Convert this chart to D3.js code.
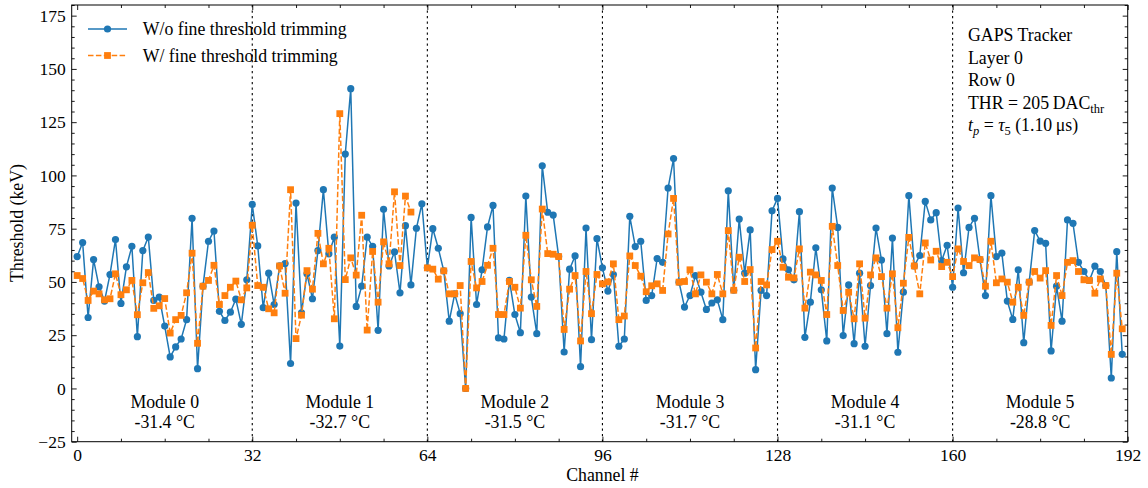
<!DOCTYPE html>
<html><head><meta charset="utf-8">
<script src="https://cdn.jsdelivr.net/npm/d3@7"></script>
<style>
body{margin:0;background:#fff;}
text{font-family:"Liberation Serif","Times New Roman",serif;fill:#000;}
</style></head>
<body><svg id="c" width="1148" height="488"></svg>
<script>
const woTrim = [61.9,68.5,33.3,60.5,47.7,41.0,53.5,69.9,39.9,57.1,66.7,24.3,64.7,71.1,41.3,42.9,29.3,14.8,19.5,23.2,32.3,79.9,9.3,48.0,
69.1,73.9,36.2,31.9,35.8,41.9,30.1,51.0,86.4,66.9,37.9,54.1,39.4,57.5,58.6,11.7,87.0,35.5,53.8,42.1,64.7,93.3,63.2,71.0,
19.9,110.0,140.7,38.5,48.0,71.0,66.7,27.3,84.1,57.5,64.1,44.9,76.4,48.6,75.2,86.7,56.6,75.0,65.8,55.2,31.6,44.4,35.1,0.0,
80.3,39.4,55.7,75.8,85.9,23.7,23.2,50.7,34.7,26.2,90.3,42.9,25.7,104.5,82.7,81.4,61.9,17.1,56.0,62.2,10.2,75.3,22.9,70.3,
56.6,45.7,53.5,19.8,23.2,80.8,66.6,69.1,41.3,43.6,61.0,59.2,94.1,107.9,49.9,38.2,43.6,53.0,45.2,37.1,40.1,41.6,32.3,92.8,
46.1,79.5,54.1,74.4,8.8,46.0,43.6,83.4,89.2,60.8,55.7,51.0,83.0,24.0,40.5,66.0,46.3,22.3,94.1,75.6,24.8,48.6,21.0,54.1,
19.8,48.3,75.3,60.3,25.7,70.6,17.0,45.2,90.5,57.5,62.4,87.8,79.1,82.5,60.0,67.2,47.5,84.7,54.3,75.6,79.9,60.5,43.6,90.5,
61.9,63.5,41.0,32.4,55.7,21.5,49.9,74.1,69.2,68.1,17.6,48.0,31.6,79.1,77.5,59.2,54.9,50.7,57.4,54.9,48.3,4.9,64.2,16.0];
const wTrim = [53.0,51.6,41.3,45.7,44.4,41.6,42.1,53.8,44.0,46.3,50.7,34.6,49.6,54.4,37.6,38.8,42.2,26.0,32.3,34.3,44.9,63.5,21.2,48.0,
50.7,57.8,39.4,43.6,47.5,50.4,41.6,47.2,76.6,48.3,47.5,37.4,35.5,57.5,44.7,93.3,23.4,34.4,55.3,46.6,72.8,58.5,65.8,32.7,
129.0,51.1,61.3,53.2,81.3,27.4,64.3,40.5,68.8,58.5,92.3,57.7,90.3,82.8,null,null,56.6,56.0,51.3,55.2,44.4,44.4,48.3,0.0,
59.6,47.2,50.2,57.8,65.8,34.7,34.7,50.2,47.5,37.7,71.9,51.0,38.5,84.2,63.3,63.0,61.9,27.7,46.6,53.0,22.3,54.9,35.1,53.5,
49.1,50.0,58.5,32.3,34.0,62.2,57.7,52.7,45.4,48.2,49.1,46.0,72.5,89.2,49.9,50.2,55.7,44.4,53.3,49.9,44.4,53.5,44.4,74.1,
46.1,61.6,50.2,55.8,19.0,50.2,48.6,65.2,69.1,56.9,52.2,51.9,65.5,37.7,54.6,53.3,50.7,34.7,76.1,57.7,36.6,45.2,32.7,58.5,
33.0,53.3,61.3,52.5,37.7,53.8,28.5,49.4,70.9,57.5,44.4,68.3,60.3,64.4,57.2,59.2,52.5,65.5,59.6,57.7,61.3,60.5,48.0,69.1,
49.6,51.4,49.9,40.5,47.5,34.3,49.9,54.9,51.8,55.3,29.6,53.0,43.6,59.2,60.0,54.9,51.0,50.7,44.7,51.4,48.3,16.0,54.1,28.0];
const moduleNames = ["Module 0","Module 1","Module 2","Module 3","Module 4","Module 5"];
const moduleTemps = ["-31.4 °C","-32.7 °C","-31.5 °C","-31.7 °C","-31.1 °C","-28.8 °C"];
const moduleBounds = [32,64,96,128,160];
const xTicks = [0,32,64,96,128,160,192];
const yTicks = [-25,0,25,50,75,100,125,150,175];

const W=1148,H=488;
const m={l:71.7,r:W-1127.7,t:5,b:H-441.7};
const svg=d3.select("#c");
const x=d3.scaleLinear().domain([-1,192]).range([m.l,W-m.r]);
const y=d3.scaleLinear().domain([-25,180]).range([H-m.b,m.t]);
const FS=17.5;

const xMinor=d3.range(0,193,8).filter(v=>v%32!==0);
const yMinor=d3.range(-25,181,5).filter(v=>v%25!==0);

function styleAxis(g){g.select(".domain").remove();g.selectAll("line").attr("stroke","#000").attr("stroke-width",0.9);g.selectAll("text").style("font-size",FS+"px").style("font-family","Liberation Serif");}

svg.append("g").attr("transform",`translate(0,${H-m.b})`).call(d3.axisBottom(x).tickValues(xTicks).tickSize(-5).tickPadding(7)).call(styleAxis);
svg.append("g").attr("transform",`translate(0,${H-m.b})`).call(d3.axisBottom(x).tickValues(xMinor).tickSize(-3).tickFormat("")).call(styleAxis);
svg.append("g").attr("transform",`translate(0,${m.t})`).call(d3.axisTop(x).tickValues(xTicks).tickSize(-5).tickFormat("")).call(styleAxis);
svg.append("g").attr("transform",`translate(0,${m.t})`).call(d3.axisTop(x).tickValues(xMinor).tickSize(-3).tickFormat("")).call(styleAxis);
svg.append("g").attr("transform",`translate(${m.l},0)`).call(d3.axisLeft(y).tickValues(yTicks).tickSize(-5).tickPadding(6)).call(styleAxis);
svg.append("g").attr("transform",`translate(${m.l},0)`).call(d3.axisLeft(y).tickValues(yMinor).tickSize(-3).tickFormat("")).call(styleAxis);
svg.append("g").attr("transform",`translate(${W-m.r},0)`).call(d3.axisRight(y).tickValues(yTicks).tickSize(-5).tickFormat("")).call(styleAxis);
svg.append("g").attr("transform",`translate(${W-m.r},0)`).call(d3.axisRight(y).tickValues(yMinor).tickSize(-3).tickFormat("")).call(styleAxis);

svg.append("g").selectAll("line").data(moduleBounds).join("line")
 .attr("x1",d=>x(d)).attr("x2",d=>x(d)).attr("y1",m.t).attr("y2",H-m.b)
 .attr("stroke","#000").attr("stroke-width",1.1).attr("stroke-dasharray","2.2,3.3");

const lab=svg.append("g");
moduleNames.forEach((n,i)=>{
  lab.append("text").attr("x",x(16+32*i)).attr("y",408).attr("text-anchor","middle").style("font-size","17.8px").text(n);
  lab.append("text").attr("x",x(16+32*i)).attr("y",427.5).attr("text-anchor","middle").style("font-size","17.8px").text(moduleTemps[i]);
});

svg.append("clipPath").attr("id","pc").append("rect").attr("x",m.l).attr("y",m.t).attr("width",W-m.l-m.r).attr("height",H-m.t-m.b);
const plot=svg.append("g").attr("clip-path","url(#pc)");
const line=d3.line().defined(d=>d[1]!==null).x(d=>x(d[0])).y(d=>y(d[1]));

const bData=woTrim.map((v,i)=>[i,v]);
const oData=wTrim.map((v,i)=>[i,v]);
const BLUE="#1f77b4",ORANGE="#ff7f0e";
const R=3.6, sq=6.8;
plot.append("path").datum(bData).attr("d",line).attr("fill","none").attr("stroke",BLUE).attr("stroke-width",1.5);
plot.append("g").selectAll("circle").data(bData.filter(d=>d[1]!==null)).join("circle")
  .attr("cx",d=>x(d[0])).attr("cy",d=>y(d[1])).attr("r",R).attr("fill",BLUE);
plot.append("path").datum(oData).attr("d",line).attr("fill","none").attr("stroke",ORANGE).attr("stroke-width",1.5).attr("stroke-dasharray","5.5,2.4");
plot.append("g").selectAll("rect").data(oData.filter(d=>d[1]!==null)).join("rect")
  .attr("x",d=>x(d[0])-sq/2).attr("y",d=>y(d[1])-sq/2).attr("width",sq).attr("height",sq).attr("fill",ORANGE);

svg.append("rect").attr("x",m.l).attr("y",m.t).attr("width",W-m.l-m.r).attr("height",H-m.t-m.b).attr("fill","none").attr("stroke","#000").attr("stroke-width",1);

const lg=svg.append("g");
lg.append("line").attr("x1",88).attr("x2",127).attr("y1",29).attr("y2",29).attr("stroke",BLUE).attr("stroke-width",1.5);
lg.append("circle").attr("cx",107.5).attr("cy",29).attr("r",R).attr("fill",BLUE);
lg.append("text").attr("x",142.7).attr("y",35).style("font-size","17.8px").text("W/o fine threshold trimming");
lg.append("line").attr("x1",88).attr("x2",127).attr("y1",55.5).attr("y2",55.5).attr("stroke",ORANGE).attr("stroke-width",1.5).attr("stroke-dasharray","5.5,2.4");
lg.append("rect").attr("x",107.5-sq/2).attr("y",55.5-sq/2).attr("width",sq).attr("height",sq).attr("fill",ORANGE);
lg.append("text").attr("x",142.7).attr("y",61.5).style("font-size","17.8px").text("W/ fine threshold trimming");

const info=svg.append("g").style("font-size","17.8px");
info.append("text").attr("x",968).attr("y",41).text("GAPS Tracker");
info.append("text").attr("x",968).attr("y",63.6).text("Layer 0");
info.append("text").attr("x",968).attr("y",86.2).text("Row 0");
const t4=info.append("text").attr("x",968).attr("y",108.8);
t4.append("tspan").text("THR = 205\u2009DAC");
t4.append("tspan").attr("dy",4).style("font-size","12.5px").text("thr");
const t5=info.append("text").attr("x",968).attr("y",131.4);
t5.append("tspan").style("font-style","italic").text("t");
t5.append("tspan").attr("dy",4).style("font-size","12.5px").style("font-style","italic").text("p");
t5.append("tspan").attr("dy",-4).text(" = ");
t5.append("tspan").style("font-style","italic").text("τ");
t5.append("tspan").attr("dy",4).style("font-size","12.5px").text("5");
t5.append("tspan").attr("dy",-4).text(" (1.10\u2009μs)");

svg.append("text").attr("transform","translate(23,223) rotate(-90)").attr("text-anchor","middle").style("font-size","17.8px").text("Threshold (keV)");
svg.append("text").attr("x",x(96)).attr("y",481).attr("text-anchor","middle").style("font-size","17.8px").text("Channel #");
</script></body></html>
